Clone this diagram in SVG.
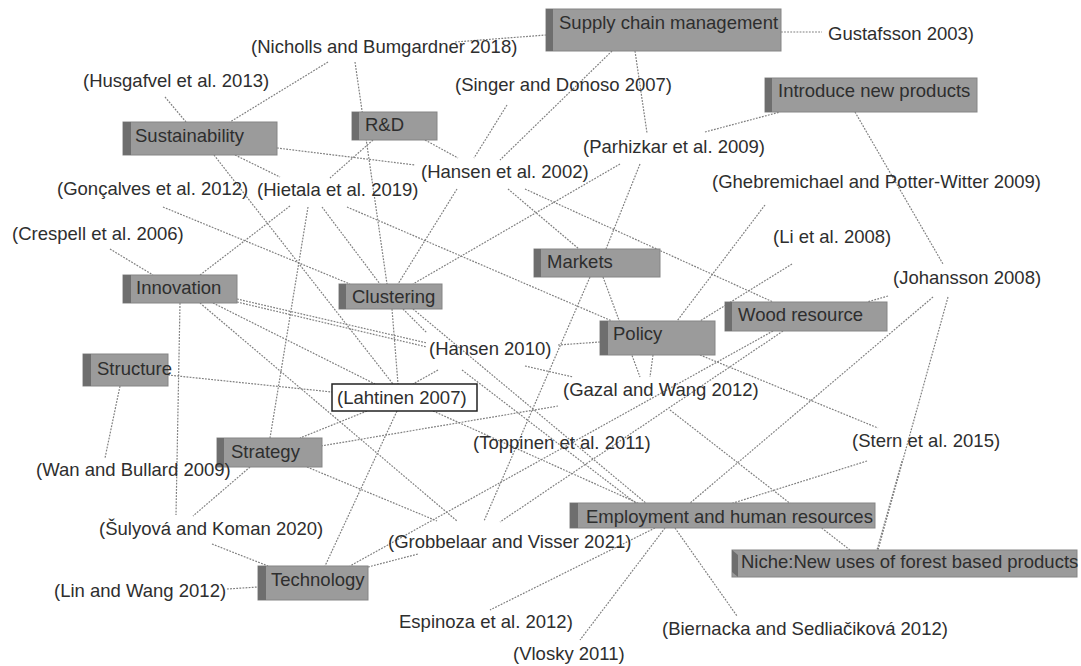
<svg xmlns="http://www.w3.org/2000/svg" width="1081" height="666" viewBox="0 0 1081 666">
<style>
.e line{stroke:#7f7f7f;stroke-width:1.2;stroke-dasharray:1.8 1.3;fill:none}
.b{fill:#9b9b9b;stroke:#858585;stroke-width:1}
.s{fill:#6e6e6e}
text{font-family:"Liberation Sans",Arial,sans-serif;font-size:18.5px;fill:#2e2e2e}
.w{fill:#fff;stroke:#222;stroke-width:1.5}
</style>
<rect width="1081" height="666" fill="#fff"/>
<g id="connectors" class="e">
<line x1="328" y1="62" x2="230" y2="122"/>
<line x1="355" y1="62" x2="387" y2="284"/>
<line x1="455" y1="42" x2="546" y2="35"/>
<line x1="165" y1="97" x2="186" y2="122"/>
<line x1="781" y1="32" x2="822" y2="32"/>
<line x1="612" y1="51" x2="500" y2="160"/>
<line x1="507" y1="105" x2="474" y2="158"/>
<line x1="635" y1="51" x2="647" y2="133"/>
<line x1="705" y1="132" x2="780" y2="112"/>
<line x1="277" y1="148" x2="415" y2="165"/>
<line x1="235" y1="155" x2="280" y2="177"/>
<line x1="214" y1="155" x2="393" y2="384"/>
<line x1="373" y1="140" x2="330" y2="178"/>
<line x1="425" y1="140" x2="458" y2="158"/>
<line x1="163" y1="207" x2="350" y2="284"/>
<line x1="290" y1="206" x2="200" y2="275"/>
<line x1="308" y1="207" x2="270" y2="438"/>
<line x1="322" y1="207" x2="380" y2="284"/>
<line x1="347" y1="207" x2="612" y2="321"/>
<line x1="457" y1="189" x2="398" y2="284"/>
<line x1="620" y1="164" x2="413" y2="284"/>
<line x1="640" y1="164" x2="606" y2="249"/>
<line x1="508" y1="189" x2="579" y2="249"/>
<line x1="525" y1="189" x2="773" y2="302"/>
<line x1="110" y1="249" x2="153" y2="275"/>
<line x1="180" y1="303" x2="176" y2="515"/>
<line x1="237" y1="299" x2="427" y2="343"/>
<line x1="237" y1="302" x2="427" y2="347"/>
<line x1="213" y1="303" x2="375" y2="384"/>
<line x1="200" y1="303" x2="457" y2="521"/>
<line x1="168" y1="375" x2="332" y2="392"/>
<line x1="120" y1="386" x2="105" y2="458"/>
<line x1="392" y1="309" x2="398" y2="384"/>
<line x1="438" y1="370" x2="413" y2="384"/>
<line x1="397" y1="411" x2="325" y2="566"/>
<line x1="367" y1="411" x2="300" y2="438"/>
<line x1="433" y1="411" x2="640" y2="504"/>
<line x1="403" y1="309" x2="427" y2="333"/>
<line x1="413" y1="309" x2="647" y2="504"/>
<line x1="462" y1="370" x2="637" y2="504"/>
<line x1="558" y1="345" x2="600" y2="342"/>
<line x1="525" y1="366" x2="573" y2="377"/>
<line x1="590" y1="277" x2="484" y2="521"/>
<line x1="603" y1="277" x2="640" y2="377"/>
<line x1="653" y1="355" x2="650" y2="377"/>
<line x1="700" y1="355" x2="878" y2="428"/>
<line x1="792" y1="264" x2="700" y2="321"/>
<line x1="765" y1="205" x2="677" y2="321"/>
<line x1="855" y1="112" x2="943" y2="264"/>
<line x1="888" y1="296" x2="867" y2="302"/>
<line x1="933" y1="297" x2="689" y2="504"/>
<line x1="948" y1="297" x2="878" y2="550"/>
<line x1="902" y1="461" x2="877" y2="550"/>
<line x1="867" y1="461" x2="730" y2="504"/>
<line x1="773" y1="331" x2="350" y2="566"/>
<line x1="783" y1="331" x2="500" y2="522"/>
<line x1="321" y1="446" x2="558" y2="406"/>
<line x1="307" y1="467" x2="437" y2="521"/>
<line x1="250" y1="467" x2="193" y2="516"/>
<line x1="212" y1="544" x2="268" y2="566"/>
<line x1="227" y1="589" x2="258" y2="587"/>
<line x1="368" y1="567" x2="418" y2="554"/>
<line x1="670" y1="410" x2="850" y2="550"/>
<line x1="655" y1="528" x2="490" y2="610"/>
<line x1="665" y1="528" x2="580" y2="640"/>
<line x1="675" y1="528" x2="737" y2="616"/>
</g>
<g id="supply-chain"><rect class="b" x="546" y="9" width="235" height="42"/><rect class="s" x="546" y="9" width="7" height="42"/><text x="559" y="29">Supply chain management</text></g>
<g id="introduce"><rect class="b" x="765" y="78" width="212" height="34"/><rect class="s" x="765" y="78" width="7" height="34"/><text x="778" y="97">Introduce new products</text></g>
<g id="sustainability"><rect class="b" x="123" y="122" width="154" height="33"/><rect class="s" x="123" y="122" width="8" height="33"/><text x="135" y="142">Sustainability</text></g>
<g id="rd"><rect class="b" x="352" y="112" width="85" height="28"/><rect class="s" x="352" y="112" width="7" height="28"/><text x="365" y="131">R&amp;D</text></g>
<g id="innovation"><rect class="b" x="123" y="275" width="114" height="28"/><rect class="s" x="123" y="275" width="8" height="28"/><text x="136" y="294">Innovation</text></g>
<g id="clustering"><rect class="b" x="339" y="284" width="103" height="25"/><rect class="s" x="339" y="284" width="7" height="25"/><text x="352" y="303">Clustering</text></g>
<g id="markets"><rect class="b" x="534" y="249" width="126" height="28"/><rect class="s" x="534" y="249" width="7" height="28"/><text x="547" y="268">Markets</text></g>
<g id="policy"><rect class="b" x="600" y="321" width="115" height="34"/><rect class="s" x="600" y="321" width="8" height="34"/><text x="613" y="340">Policy</text></g>
<g id="wood-resource"><rect class="b" x="725" y="302" width="162" height="29"/><rect class="s" x="725" y="302" width="7" height="29"/><text x="738" y="321">Wood resource</text></g>
<g id="structure"><rect class="b" x="83" y="354" width="85" height="32"/><rect class="s" x="83" y="354" width="8" height="32"/><text x="97" y="375">Structure</text></g>
<g id="lahtinen"><rect class="w" x="332" y="384" width="145" height="27"/><text x="337" y="404">(Lahtinen 2007)</text></g>
<g id="strategy"><rect class="b" x="217" y="438" width="105" height="29"/><rect class="s" x="217" y="438" width="7" height="29"/><text x="231" y="458">Strategy</text></g>
<g id="employment"><rect class="b" x="570" y="503" width="305" height="25"/><rect class="s" x="570" y="503" width="8" height="25"/><text x="586" y="523">Employment and human resources</text></g>
<g id="niche"><rect class="b" x="732" y="550" width="345" height="27"/><polygon class="s" points="732,550 738,555 738,577 732,572"/><text x="741" y="568">Niche:New uses of forest based products</text></g>
<g id="technology"><rect class="b" x="258" y="566" width="110" height="34"/><rect class="s" x="258" y="566" width="8" height="34"/><text x="271" y="586">Technology</text></g>
<g id="labels">
<g id="nicholls"><text x="251" y="53">(Nicholls and Bumgardner 2018)</text></g>
<g id="gustafsson"><text x="828" y="40">Gustafsson 2003)</text></g>
<g id="husgafvel"><text x="83" y="87">(Husgafvel et al. 2013)</text></g>
<g id="singer"><text x="455" y="91">(Singer and Donoso 2007)</text></g>
<g id="parhizkar"><text x="583" y="153">(Parhizkar et al. 2009)</text></g>
<g id="hansen2002"><text x="421" y="178">(Hansen et al. 2002)</text></g>
<g id="goncalves"><text x="57" y="195">(Gonçalves et al. 2012)</text></g>
<g id="hietala"><text x="257" y="196">(Hietala et al. 2019)</text></g>
<g id="ghebremichael"><text x="712" y="188">(Ghebremichael and Potter-Witter 2009)</text></g>
<g id="crespell"><text x="12" y="240">(Crespell et al. 2006)</text></g>
<g id="li"><text x="773" y="243">(Li et al. 2008)</text></g>
<g id="johansson"><text x="893" y="284">(Johansson 2008)</text></g>
<g id="hansen2010"><text x="429" y="355">(Hansen 2010)</text></g>
<g id="gazal"><text x="563" y="396">(Gazal and Wang 2012)</text></g>
<g id="toppinen"><text x="473" y="449">(Toppinen et al. 2011)</text></g>
<g id="stern"><text x="852" y="447">(Stern et al. 2015)</text></g>
<g id="wan"><text x="36" y="476">(Wan and Bullard 2009)</text></g>
<g id="sulyova"><text x="99" y="535">(Šulyová and Koman 2020)</text></g>
<g id="lin"><text x="54" y="597">(Lin and Wang 2012)</text></g>
<g id="grobbelaar"><text x="388" y="548">(Grobbelaar and Visser 2021)</text></g>
<g id="espinoza"><text x="399" y="628">Espinoza et al. 2012)</text></g>
<g id="vlosky"><text x="513" y="660">(Vlosky 2011)</text></g>
<g id="biernacka"><text x="662" y="635">(Biernacka and Sedliačiková 2012)</text></g>
</g>
</svg>
